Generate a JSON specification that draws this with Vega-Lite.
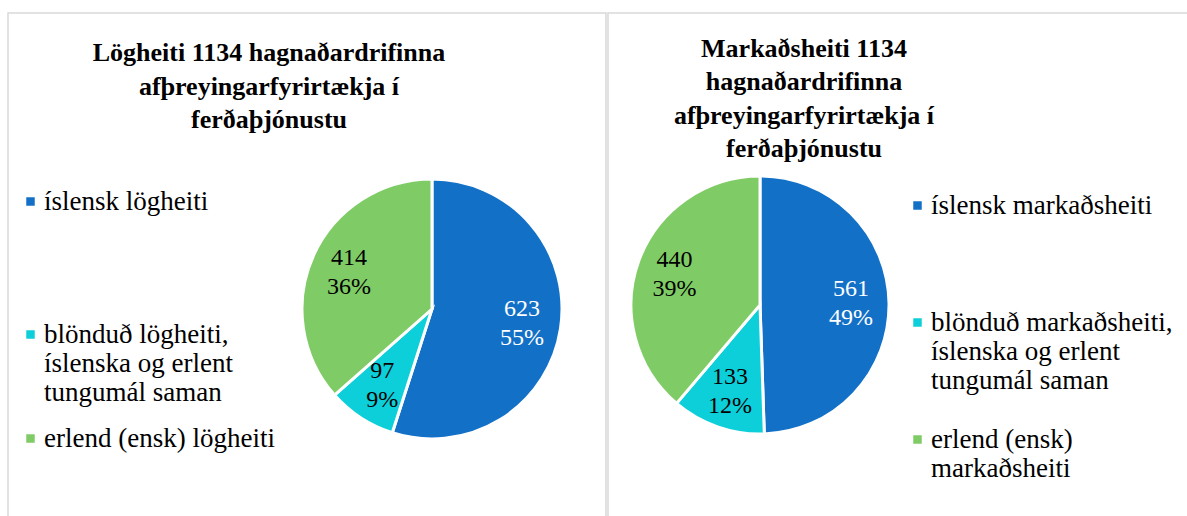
{
  "$schema": "https://vega.github.io/schema/vega-lite/v6.json",
  "padding": {"left": 7, "top": 12, "right": 0, "bottom": 0},
  "autosize": {"type": "pad"},
  "background": "white",
  "spacing": 0,
  "config": {
    "view": {"stroke": "#d9d9d9", "strokeWidth": 1.5},
    "font": "Liberation Serif",
    "title": {"font": "Liberation Serif", "fontSize": 26, "fontWeight": "bold", "color": "black", "lineHeight": 33.5, "anchor": "middle", "baseline": "top"},
    "legend": {
      "orient": "none",
      "title": null,
      "symbolType": "square",
      "symbolSize": 72,
      "symbolStrokeWidth": 0,
      "symbolOpacity": 1,
      "labelFont": "Liberation Serif",
      "labelFontSize": 27,
      "labelColor": "black",
      "labelLimit": 500,
      "labelLineHeight": 28.5,
      "labelBaseline": "middle",
      "labelOffset": 0
    }
  },
  "datasets": {
    "legal": [
      {"category": "íslensk lögheiti", "rank": 1, "value": 623, "pct": "55%"},
      {"category": "blönduð lögheiti, íslenska og erlent tungumál saman", "rank": 2, "value": 97, "pct": "9%"},
      {"category": "erlend (ensk) lögheiti", "rank": 3, "value": 414, "pct": "36%"}
    ],
    "market": [
      {"category": "íslensk markaðsheiti", "rank": 1, "value": 561, "pct": "49%"},
      {"category": "blönduð markaðsheiti, íslenska og erlent tungumál saman", "rank": 2, "value": 133, "pct": "12%"},
      {"category": "erlend (ensk) markaðsheiti", "rank": 3, "value": 440, "pct": "39%"}
    ]
  },
  "hconcat": [
    {
      "width": 598,
      "height": 592,
      "title": {"text": ["Lögheiti 1134 hagnaðardrifinna", "afþreyingarfyrirtækja í", "ferðaþjónustu"], "offset": -120, "dx": -38},
      "data": {"name": "legal"},
      "encoding": {
        "theta": {"field": "value", "type": "quantitative", "stack": true},
        "order": {"field": "rank", "type": "quantitative"},
        "x": {"datum": 0.709, "type": "quantitative", "scale": {"domain": [0, 1]}, "axis": null}
      },
      "layer": [
        {
          "mark": {"type": "arc", "outerRadius": 130, "stroke": "white", "strokeWidth": 3},
          "encoding": {
            "color": {
              "field": "category", "type": "nominal",
              "scale": {"domain": ["íslensk lögheiti", "blönduð lögheiti, íslenska og erlent tungumál saman", "erlend (ensk) lögheiti"], "range": ["#1270c7", "#0dcfd9", "#7fcb66"]},
              "legend": {
                "legendX": 9, "legendY": 175, "rowPadding": 18,
                "labelExpr": "datum.label === 'íslensk lögheiti' ? ['íslensk lögheiti', '', '', ''] : datum.label === 'erlend (ensk) lögheiti' ? 'erlend (ensk) lögheiti' : ['blönduð lögheiti,', 'íslenska og erlent', 'tungumál saman']"
              }
            }
          }
        },
        {
          "mark": {"type": "text", "radius": 91, "dy": -14, "fontSize": 24, "font": "Liberation Serif", "baseline": "middle"},
          "encoding": {
            "text": {"field": "value", "type": "quantitative"},
            "color": {"condition": {"test": "datum.rank === 1", "value": "white"}, "value": "black"}
          }
        },
        {
          "mark": {"type": "text", "radius": 91, "dy": 15, "fontSize": 24, "font": "Liberation Serif", "baseline": "middle"},
          "encoding": {
            "text": {"field": "pct", "type": "nominal"},
            "color": {"condition": {"test": "datum.rank === 1", "value": "white"}, "value": "black"}
          }
        }
      ]
    },
    {
      "width": 598,
      "height": 584,
      "title": {"text": ["Markaðsheiti 1134", "hagnaðardrifinna", "afþreyingarfyrirtækja í", "ferðaþjónustu"], "offset": -149, "dx": -103},
      "data": {"name": "market"},
      "encoding": {
        "theta": {"field": "value", "type": "quantitative", "stack": true},
        "order": {"field": "rank", "type": "quantitative"},
        "x": {"datum": 0.2542, "type": "quantitative", "scale": {"domain": [0, 1]}, "axis": null}
      },
      "layer": [
        {
          "mark": {"type": "arc", "outerRadius": 129, "stroke": "white", "strokeWidth": 3},
          "encoding": {
            "color": {
              "field": "category", "type": "nominal",
              "scale": {"domain": ["íslensk markaðsheiti", "blönduð markaðsheiti, íslenska og erlent tungumál saman", "erlend (ensk) markaðsheiti"], "range": ["#1270c7", "#0dcfd9", "#7fcb66"]},
              "legend": {
                "legendX": 296, "legendY": 179, "rowPadding": 31,
                "labelExpr": "datum.label === 'íslensk markaðsheiti' ? ['íslensk markaðsheiti', '', ''] : datum.label === 'erlend (ensk) markaðsheiti' ? ['erlend (ensk)', 'markaðsheiti'] : ['blönduð markaðsheiti,', 'íslenska og erlent', 'tungumál saman']"
              }
            }
          }
        },
        {
          "mark": {"type": "text", "radius": 91, "dy": -14, "fontSize": 24, "font": "Liberation Serif", "baseline": "middle"},
          "encoding": {
            "text": {"field": "value", "type": "quantitative"},
            "color": {"condition": {"test": "datum.rank === 1", "value": "white"}, "value": "black"}
          }
        },
        {
          "mark": {"type": "text", "radius": 91, "dy": 15, "fontSize": 24, "font": "Liberation Serif", "baseline": "middle"},
          "encoding": {
            "text": {"field": "pct", "type": "nominal"},
            "color": {"condition": {"test": "datum.rank === 1", "value": "white"}, "value": "black"}
          }
        }
      ]
    }
  ],
  "resolve": {"scale": {"color": "independent", "x": "independent", "theta": "independent"}, "legend": {"color": "independent"}}
}
